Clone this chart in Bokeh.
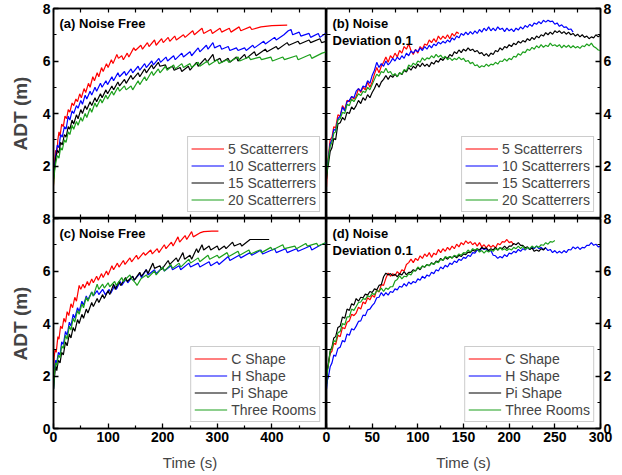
from bokeh.plotting import figure
from bokeh.layouts import column, row
from bokeh.models import Range1d, LinearAxis, FixedTicker, Legend, LegendItem, Label
from bokeh.embed import file_html
from bokeh.resources import INLINE

FONT = "Liberation Sans"
COLORS = ["#ff0000", "#0000ff", "#000000", "#1ca01c"]

SCAT_NAMES = ["5 Scatterrers", "10 Scatterrers", "15 Scatterrers", "20 Scatterrers"]
SHAPE_NAMES = ["C Shape", "H Shape", "Pi Shape", "Three Rooms"]

# ---------------- (a) Noise Free, scatterers ----------------
A_RED_T = [0, 2, 4, 6, 8, 10, 12, 15, 18, 21, 24, 27, 30, 34, 37, 41, 44, 48, 51, 56, 59, 64, 67, 72, 75, 80, 83, 88, 91, 97, 100, 106, 109, 116, 119, 125, 128, 135, 138, 147, 150, 160, 163, 172, 175, 185, 188, 198, 201, 210, 213, 222, 225, 238, 241, 255, 258, 272, 275, 288, 291, 305, 308, 322, 325, 340, 343, 360, 363, 380, 400, 428]
A_RED_V = [1.25, 2.2, 2.6, 2.45, 3.0, 3.3, 3.15, 3.6, 3.5, 3.9, 3.8, 4.15, 4.05, 4.4, 4.3, 4.55, 4.45, 4.75, 4.6, 4.95, 4.8, 5.15, 5.0, 5.4, 5.25, 5.55, 5.4, 5.75, 5.6, 5.9, 5.75, 6.05, 5.9, 6.25, 6.1, 6.2, 6.05, 6.3, 6.15, 6.5, 6.4, 6.6, 6.45, 6.7, 6.55, 6.8, 6.6, 6.85, 6.7, 6.9, 6.75, 6.95, 6.8, 7.0, 6.9, 7.15, 7.0, 7.25, 7.05, 7.2, 7.05, 7.25, 7.1, 7.25, 7.1, 7.3, 7.15, 7.3, 7.2, 7.3, 7.35, 7.37]

A_BLUE_T = [0, 2, 4, 7, 10, 13, 16, 20, 23, 27, 30, 34, 37, 42, 45, 50, 53, 58, 61, 67, 70, 76, 79, 86, 89, 96, 99, 107, 110, 118, 121, 130, 133, 142, 145, 155, 158, 167, 170, 180, 183, 193, 196, 206, 209, 220, 223, 235, 238, 250, 253, 265, 268, 280, 283, 292, 295, 305, 308, 320, 323, 335, 338, 350, 353, 365, 368, 385, 388, 405, 408, 422, 430, 435, 438, 450, 453, 468, 471, 485, 488, 498, 500]
A_BLUE_V = [1.6, 2.0, 2.4, 2.8, 2.7, 3.2, 3.1, 3.5, 3.4, 3.9, 3.75, 4.1, 4.0, 4.3, 4.2, 4.5, 4.35, 4.7, 4.55, 4.85, 4.7, 5.0, 4.85, 5.15, 5.0, 5.25, 5.1, 5.4, 5.25, 5.55, 5.4, 5.6, 5.45, 5.7, 5.55, 5.8, 5.65, 5.9, 5.75, 6.0, 5.85, 6.1, 5.95, 6.15, 6.0, 6.2, 6.05, 6.3, 6.15, 6.35, 6.2, 6.5, 6.35, 6.6, 6.45, 6.7, 6.5, 6.6, 6.45, 6.55, 6.4, 6.5, 6.4, 6.5, 6.4, 6.6, 6.5, 6.75, 6.65, 6.9, 6.8, 7.0, 7.15, 7.2, 7.0, 7.1, 6.95, 7.05, 6.9, 7.05, 6.9, 7.05, 6.95]

A_BLACK_T = [0, 2, 4, 7, 10, 13, 16, 20, 23, 27, 30, 34, 37, 42, 45, 50, 53, 58, 61, 67, 70, 76, 79, 86, 89, 96, 99, 107, 110, 118, 121, 130, 133, 142, 145, 155, 158, 167, 170, 180, 183, 192, 195, 205, 208, 218, 221, 232, 235, 247, 250, 262, 265, 278, 281, 292, 295, 305, 308, 320, 323, 335, 338, 350, 353, 368, 371, 388, 391, 408, 411, 428, 431, 448, 451, 468, 471, 488, 491, 500]
A_BLACK_V = [1.5, 1.9, 2.3, 2.6, 2.5, 2.9, 2.8, 3.2, 3.1, 3.5, 3.4, 3.75, 3.6, 3.95, 3.8, 4.15, 4.0, 4.3, 4.15, 4.45, 4.3, 4.6, 4.45, 4.75, 4.6, 4.9, 4.75, 5.05, 4.9, 5.2, 5.05, 5.3, 5.15, 5.45, 5.3, 5.55, 5.4, 5.7, 5.55, 5.85, 5.7, 5.95, 5.8, 5.85, 5.7, 5.8, 5.65, 5.75, 5.6, 5.8, 5.65, 5.95, 5.8, 6.1, 5.95, 6.25, 6.0, 6.1, 5.95, 6.1, 5.95, 6.15, 6.0, 6.25, 6.1, 6.35, 6.2, 6.45, 6.35, 6.55, 6.45, 6.7, 6.6, 6.75, 6.65, 6.8, 6.7, 6.85, 6.7, 6.75]

A_GREEN_T = [0, 2, 4, 7, 10, 13, 16, 20, 23, 27, 30, 34, 37, 42, 45, 50, 53, 58, 61, 67, 70, 76, 79, 86, 89, 96, 99, 107, 110, 118, 121, 130, 133, 142, 145, 155, 158, 167, 170, 180, 183, 192, 195, 205, 208, 220, 223, 235, 238, 250, 253, 265, 268, 282, 285, 300, 303, 318, 321, 338, 341, 358, 361, 378, 381, 398, 401, 420, 423, 445, 448, 470, 473, 492, 500]
A_GREEN_V = [1.3, 1.8, 2.1, 2.4, 2.3, 2.7, 2.6, 3.0, 2.9, 3.3, 3.2, 3.55, 3.4, 3.7, 3.55, 3.85, 3.7, 4.0, 3.85, 4.2, 4.05, 4.4, 4.25, 4.55, 4.4, 4.7, 4.55, 4.85, 4.7, 5.0, 4.85, 5.05, 4.9, 5.05, 4.9, 5.25, 5.1, 5.4, 5.25, 5.6, 5.45, 5.7, 5.55, 5.8, 5.65, 5.85, 5.7, 5.9, 5.75, 5.9, 5.75, 5.95, 5.8, 6.0, 5.85, 6.05, 5.9, 6.05, 5.95, 6.15, 6.0, 6.15, 6.05, 6.15, 6.05, 6.15, 6.0, 6.15, 6.05, 6.2, 6.05, 6.25, 6.1, 6.3, 6.35]

# ---------------- (c) Noise Free, shapes ----------------
C_RED_T = [0, 1, 3, 5, 8, 10, 13, 16, 19, 22, 25, 28, 32, 35, 39, 42, 47, 50, 54, 57, 62, 65, 70, 73, 79, 82, 88, 91, 97, 100, 107, 110, 117, 120, 128, 131, 140, 143, 152, 155, 165, 168, 178, 181, 190, 193, 203, 206, 216, 219, 228, 231, 241, 244, 253, 256, 268, 275, 290, 302]
C_RED_V = [1.8, 2.7, 3.0, 2.9, 3.5, 3.4, 3.9, 3.8, 4.2, 4.05, 4.45, 4.3, 4.75, 4.6, 5.0, 4.85, 5.45, 5.3, 5.5, 5.35, 5.6, 5.45, 5.7, 5.55, 5.8, 5.65, 5.9, 5.75, 6.0, 5.85, 6.2, 6.05, 6.3, 6.15, 6.4, 6.25, 6.5, 6.35, 6.6, 6.45, 6.7, 6.6, 6.8, 6.65, 6.85, 6.7, 7.0, 6.85, 7.1, 6.95, 7.3, 7.1, 7.35, 7.2, 7.5, 7.3, 7.45, 7.5, 7.52, 7.52]

C_BLUE_T = [0, 2, 4, 6, 9, 12, 15, 18, 22, 25, 29, 32, 36, 39, 44, 47, 52, 55, 60, 63, 70, 73, 80, 83, 90, 95, 102, 105, 112, 115, 122, 125, 133, 136, 145, 148, 158, 161, 170, 173, 185, 188, 200, 203, 215, 218, 230, 233, 248, 251, 265, 268, 285, 288, 300, 303, 320, 323, 340, 343, 360, 363, 380, 383, 405, 408, 425, 428, 445, 448, 470, 473, 490, 500]
C_BLUE_V = [1.5, 2.3, 2.6, 2.5, 2.9, 2.8, 3.3, 3.2, 3.7, 3.55, 4.05, 3.9, 4.35, 4.2, 4.6, 4.45, 4.85, 4.7, 5.05, 4.9, 5.2, 5.05, 5.25, 5.1, 5.3, 5.1, 5.3, 5.15, 5.45, 5.3, 5.6, 5.45, 5.7, 5.55, 5.8, 5.65, 5.9, 5.75, 6.05, 5.85, 6.05, 5.9, 6.15, 6.0, 6.2, 6.05, 6.2, 6.05, 6.3, 6.15, 6.3, 6.15, 6.35, 6.2, 6.35, 6.25, 6.55, 6.4, 6.6, 6.5, 6.7, 6.6, 6.8, 6.65, 6.85, 6.7, 6.85, 6.7, 6.85, 6.75, 6.95, 6.8, 7.0, 7.05]

C_BLACK_T = [0, 2, 4, 6, 9, 12, 15, 18, 22, 25, 29, 32, 36, 39, 44, 47, 52, 55, 60, 63, 70, 73, 80, 83, 90, 93, 100, 103, 110, 113, 120, 123, 132, 135, 145, 148, 158, 161, 170, 173, 182, 185, 195, 198, 210, 213, 225, 228, 237, 240, 250, 253, 262, 265, 272, 275, 285, 288, 300, 303, 313, 316, 328, 331, 342, 345, 360, 375, 395]
C_BLACK_V = [1.5, 2.0, 2.4, 2.2, 2.6, 2.5, 2.9, 2.8, 3.3, 3.15, 3.6, 3.45, 3.85, 3.7, 4.15, 4.0, 4.35, 4.2, 4.55, 4.4, 4.8, 4.65, 4.95, 4.8, 5.1, 4.95, 5.25, 5.1, 5.5, 5.3, 5.6, 5.45, 5.75, 5.6, 5.8, 5.65, 5.95, 5.8, 6.05, 5.9, 6.3, 6.1, 6.2, 6.05, 6.4, 6.25, 6.5, 6.35, 6.7, 6.45, 6.6, 6.45, 6.85, 6.7, 7.0, 6.8, 6.95, 6.8, 6.95, 6.8, 6.95, 6.85, 7.1, 6.95, 7.05, 6.95, 7.2, 7.2, 7.2]

C_GREEN_T = [0, 2, 4, 6, 9, 12, 15, 18, 22, 25, 29, 32, 36, 39, 44, 47, 52, 55, 60, 63, 70, 73, 80, 83, 90, 93, 100, 103, 112, 115, 125, 128, 140, 143, 150, 153, 160, 170, 173, 185, 188, 200, 203, 215, 218, 230, 233, 248, 251, 265, 268, 283, 286, 300, 303, 318, 321, 338, 341, 358, 361, 378, 381, 398, 401, 420, 423, 442, 445, 462, 465, 482, 485, 500]
C_GREEN_V = [1.5, 2.2, 2.5, 2.4, 2.8, 2.7, 3.15, 3.05, 3.55, 3.4, 3.9, 3.75, 4.2, 4.05, 4.5, 4.35, 4.75, 4.6, 5.0, 4.85, 5.2, 5.05, 5.5, 5.3, 5.5, 5.35, 5.55, 5.4, 5.6, 5.45, 5.75, 5.6, 5.85, 5.7, 5.55, 5.45, 5.7, 5.85, 5.75, 6.0, 5.85, 6.15, 6.0, 6.25, 6.1, 6.3, 6.15, 6.45, 6.3, 6.5, 6.35, 6.6, 6.45, 6.6, 6.5, 6.7, 6.55, 6.75, 6.6, 6.8, 6.65, 6.8, 6.7, 6.9, 6.8, 7.0, 6.85, 6.95, 6.85, 7.05, 6.95, 7.05, 6.95, 7.1]

# ---------------- noisy panels: shared sampling times (s) ----------------
T_NOISE = [0, 1, 2, 4, 6, 8, 10, 12.5, 15, 17.5, 20, 22.5, 25, 27.5, 30] + [32.5 + 2.5 * i for i in range(108)]

# (b) Noise deviation 0.1, scatterers
B_RED_V = [1.2, 2.0, 2.35, 3.0, 3.1, 3.5, 3.45, 3.95, 3.9, 4.3, 4.15, 4.5, 4.45, 4.65, 4.55,
           4.65, 4.95, 4.8, 5.0, 4.9, 5.2, 5.0, 5.2,
           5.5, 5.75, 5.55, 5.8, 5.95, 6.15, 5.95, 6.2,
           6.1, 6.3, 6.15, 6.4, 6.3, 6.55, 6.45, 6.65,
           6.4, 6.25, 6.45, 6.3, 6.55, 6.45, 6.65, 6.6,
           6.8, 6.7, 6.85, 6.72, 6.95, 6.82, 6.95, 6.85,
           7.0, 6.85, 7.05, 6.95, 7.1, 7.05]
B_BLUE_V = [1.7, 2.05, 2.25, 2.85, 3.0, 3.4, 3.35, 3.8, 3.9, 4.25, 4.1, 4.45, 4.5, 4.65, 4.6,
            4.85, 4.95, 4.85, 5.05, 5.0, 5.25, 5.15, 5.45,
            5.65, 5.95, 5.75, 5.9, 5.8, 6.0, 5.85, 5.95,
            6.1, 6.0, 6.15, 6.05, 6.2, 6.1, 6.3, 6.2,
            6.38, 6.3, 6.42, 6.35, 6.5, 6.4, 6.55, 6.45,
            6.6, 6.5, 6.65, 6.58, 6.72, 6.65, 6.75, 6.68,
            6.8, 6.72, 6.88, 6.8, 6.95, 6.88, 7.05, 6.98,
            7.1, 7.0, 7.12, 7.02, 7.15, 7.05, 7.2, 7.1,
            7.25, 7.15, 7.3, 7.15, 7.25, 7.15, 7.3, 7.2,
            7.25, 7.12, 7.25, 7.15, 7.22, 7.12, 7.25, 7.18,
            7.3, 7.22, 7.35, 7.28, 7.4, 7.32, 7.45, 7.4,
            7.5, 7.42, 7.55, 7.48, 7.55, 7.5, 7.52, 7.4,
            7.45, 7.32, 7.38, 7.28, 7.3, 7.2, 7.22, 7.1]
B_BLACK_V = [1.5, 1.85, 2.05, 2.55, 2.7, 3.05, 3.0, 3.6, 3.65, 3.85, 3.75, 4.05, 4.0, 4.25, 4.15,
             4.3, 4.5, 4.38, 4.6, 4.5, 4.72, 4.6, 4.8,
             4.95, 5.15, 5.0, 5.2, 5.3, 5.45, 5.3, 5.45,
             5.38, 5.5, 5.4, 5.55, 5.48, 5.65, 5.58, 5.75,
             5.65, 5.8, 5.72, 5.88, 5.78, 5.92, 5.8, 5.88,
             5.78, 5.95, 5.88, 6.02, 5.95, 6.1, 6.02, 6.15,
             6.1, 6.25, 6.18, 6.35, 6.28, 6.42, 6.32, 6.45,
             6.38, 6.5, 6.4, 6.45, 6.35, 6.4, 6.28, 6.32,
             6.2, 6.28, 6.18, 6.3, 6.25, 6.4, 6.35, 6.5,
             6.42, 6.55, 6.5, 6.62, 6.55, 6.68, 6.62, 6.75,
             6.68, 6.78, 6.72, 6.85, 6.78, 6.9, 6.82, 6.95,
             6.88, 7.0, 6.95, 7.08, 7.0, 7.1, 7.02, 7.15,
             7.08, 7.15, 7.05, 7.12, 7.02, 7.1, 7.0, 7.05,
             6.95, 7.02, 6.92, 7.0, 6.9, 6.95, 6.85, 6.92,
             6.88, 7.0, 6.92, 6.98]
B_GREEN_V = [1.6, 1.95, 2.25, 2.75, 2.9, 3.25, 3.3, 3.75, 3.8, 4.05, 4.0, 4.35, 4.3, 4.55, 4.45,
             4.6, 4.75, 4.68, 4.85, 4.8, 5.0, 4.9, 5.1,
             5.3, 5.5, 5.42, 5.6, 5.55, 5.72, 5.55, 5.6,
             5.45, 5.52, 5.4, 5.55, 5.5, 5.68, 5.62, 5.85,
             5.78, 5.92, 5.85, 6.0, 5.95, 6.12, 6.02, 6.12,
             6.08, 6.2, 6.12, 6.25, 6.15, 6.22, 6.1, 6.18,
             6.05, 6.12, 6.02, 6.1, 6.05, 6.15, 6.05, 6.1,
             5.98, 6.02, 5.9, 5.95, 5.82, 5.85, 5.75, 5.82,
             5.78, 5.88, 5.8, 5.88, 5.85, 5.95, 5.88, 6.0,
             5.98, 6.08, 6.0, 6.1, 6.05, 6.18, 6.15, 6.28,
             6.22, 6.35, 6.32, 6.45, 6.4, 6.52, 6.45, 6.58,
             6.5, 6.62, 6.52, 6.6, 6.55, 6.68, 6.58, 6.62,
             6.55, 6.62, 6.5, 6.6, 6.52, 6.6, 6.5, 6.58,
             6.5, 6.55, 6.48, 6.58, 6.55, 6.65, 6.58, 6.68,
             6.55, 6.5, 6.42, 6.4]

# (d) Noise deviation 0.1, shapes
D_RED_V = [1.8, 2.25, 2.45, 2.85, 2.95, 3.25, 3.2, 3.55, 3.5, 3.85, 3.8, 4.05, 4.1, 4.35, 4.3,
           4.4, 4.62, 4.55, 4.82, 4.75, 4.98, 4.9, 5.08,
           5.0, 5.28, 5.2, 5.48, 5.45, 5.72, 5.92, 5.8,
           5.9, 5.82, 5.98, 5.88, 6.05, 6.0, 6.25, 6.32,
           6.45, 6.32, 6.48, 6.4, 6.58, 6.48, 6.65, 6.55,
           6.7, 6.52, 6.68, 6.62, 6.82, 6.7, 6.85, 6.75,
           6.9, 6.8, 6.95, 6.85, 7.02, 6.92, 7.08, 7.0,
           7.15, 7.05, 7.12, 7.0, 7.08, 6.95, 7.08, 6.92,
           7.0, 6.88, 7.0, 6.9, 6.98, 6.88, 7.05, 7.0,
           7.12, 7.1, 7.2, 7.08, 7.12, 7.0]
D_BLUE_V = [1.5, 1.85, 1.95, 2.35, 2.5, 2.8, 2.75, 3.05, 3.1, 3.35, 3.3, 3.6, 3.55, 3.8, 3.75,
            3.9, 4.08, 4.1, 4.32, 4.3, 4.52, 4.55, 4.68,
            4.78, 4.98, 5.0, 5.18, 5.05, 5.18, 5.08, 5.22,
            5.18, 5.32, 5.28, 5.42, 5.38, 5.52, 5.42, 5.58,
            5.5, 5.6, 5.55, 5.7, 5.65, 5.8, 5.72, 5.85,
            5.8, 5.95, 5.9, 6.05, 6.0, 6.15, 6.08, 6.22,
            6.15, 6.3, 6.25, 6.38, 6.32, 6.45, 6.4, 6.52,
            6.48, 6.6, 6.55, 6.7, 6.68, 6.8, 6.75, 6.88,
            6.82, 6.85, 6.75, 6.78, 6.6, 6.58, 6.48, 6.55,
            6.5, 6.62, 6.55, 6.68, 6.65, 6.75, 6.7, 6.82,
            6.75, 6.85, 6.8, 6.9, 6.82, 6.9, 6.85, 6.95,
            6.85, 6.9, 6.82, 6.88, 6.78, 6.82, 6.7, 6.78,
            6.68, 6.75, 6.68, 6.78, 6.7, 6.82, 6.8, 6.92,
            6.85, 6.92, 6.82, 6.9, 6.88, 6.98, 6.98, 7.08,
            6.98, 7.02, 6.92, 6.95]
D_BLACK_V = [1.7, 2.25, 2.45, 2.95, 3.1, 3.45, 3.5, 3.85, 3.9, 4.25, 4.2, 4.55, 4.5, 4.75, 4.7,
             4.95, 4.85, 5.0, 4.98, 5.12, 5.08, 5.22, 5.18,
             5.32, 5.28, 5.45, 5.48, 5.78, 5.92, 5.85, 5.9,
             5.82, 5.88, 5.78, 5.9, 5.85, 5.98, 5.85, 5.95,
             5.95, 6.05, 6.0, 6.12, 6.05, 6.18, 6.15, 6.25,
             6.2, 6.32, 6.25, 6.38, 6.35, 6.48, 6.4, 6.52,
             6.45, 6.55, 6.5, 6.58, 6.5, 6.6, 6.55, 6.65,
             6.62, 6.72, 6.7, 6.8, 6.75, 6.85, 6.8, 6.9,
             6.85, 6.88, 6.78, 6.85, 6.8, 6.9, 6.8, 6.88,
             6.85, 6.95, 6.85, 6.95, 6.95, 7.05, 7.0, 7.08,
             6.98, 6.98, 6.88, 6.92, 6.82, 6.88, 6.75, 6.8,
             6.75, 6.85, 6.8, 6.9]
D_GREEN_V = [1.6, 2.15, 2.4, 2.95, 3.05, 3.35, 3.3, 3.65, 3.7, 4.0, 3.95, 4.25, 4.25, 4.55, 4.5,
             4.65, 4.8, 4.82, 4.95, 4.92, 5.05, 5.02, 5.15,
             5.1, 5.25, 5.22, 5.35, 5.22, 5.35, 5.3, 5.4,
             5.4, 5.62, 5.68, 5.82, 5.7, 5.8, 5.78, 5.9,
             5.85, 6.0, 6.0, 6.15, 6.08, 6.2, 6.15, 6.25,
             6.2, 6.3, 6.25, 6.35, 6.32, 6.45, 6.4, 6.55,
             6.5, 6.55, 6.48, 6.6, 6.55, 6.65, 6.6, 6.7,
             6.68, 6.8, 6.72, 6.85, 6.8, 6.85, 6.72, 6.78,
             6.68, 6.78, 6.72, 6.8, 6.75, 6.85, 6.8, 6.9,
             6.8, 6.85, 6.78, 6.85, 6.8, 6.9, 6.85, 6.95,
             6.85, 6.95, 6.82, 6.9, 6.85, 6.95, 6.88, 6.95,
             6.9, 7.0, 6.98, 7.08, 7.02, 7.12, 7.1, 7.16]

Y_MAJOR_FULL = [0, 2, 4, 6, 8]
Y_MAJOR_TOP = [2, 4, 6, 8]
Y_MINOR = [1, 3, 5, 7]
XL_MAJOR = [0, 100, 200, 300, 400, 500]
XL_LABELED = [0, 100, 200, 300, 400]
XL_MINOR = [50, 150, 250, 350, 450]
XR_MAJOR = [0, 50, 100, 150, 200, 250, 300]
XR_MINOR = [25, 75, 125, 175, 225, 275]


def make_axis(major, minor, labeled):
    if labeled:
        ax = LinearAxis(ticker=FixedTicker(ticks=major, minor_ticks=minor))
        ax.major_label_text_font = FONT
        ax.major_label_text_font_style = "bold"
        ax.major_label_text_font_size = "14px"
        ax.major_label_text_color = "black"
        ax.major_label_standoff = 3
        ax.minor_tick_in = 3
    else:
        # unlabeled side: every tick drawn as a (label-free) minor tick
        ax = LinearAxis(ticker=FixedTicker(ticks=[], minor_ticks=sorted(major + minor)))
        ax.minor_tick_in = 4
        ax.major_label_standoff = 0
    ax.axis_line_color = "black"
    ax.axis_line_width = 1.5
    ax.major_tick_in = 5
    ax.major_tick_out = 0
    ax.minor_tick_out = 0
    ax.major_tick_line_width = 1.3
    ax.minor_tick_line_width = 1.2
    ax.major_tick_line_color = "black"
    ax.minor_tick_line_color = "black"
    return ax


def panel(col, is_bottom, title_lines, series, names):
    left_col = col == 0
    xmax = 500 if left_col else 300
    p = figure(frame_width=273 if left_col else 274, frame_height=210,
               x_range=Range1d(0, xmax), y_range=Range1d(0, 8),
               output_backend="svg", toolbar_location=None,
               x_axis_location=None, y_axis_location=None,
               min_border_left=53 if left_col else 8,
               min_border_right=0 if left_col else 20,
               min_border_top=10 if is_bottom else 8,
               min_border_bottom=44 if is_bottom else 0,
               border_fill_color=None, background_fill_color="white",
               outline_line_color="black", outline_line_width=1.5)
    for g in p.grid:
        g.visible = False

    # y axes
    for loc in ("left", "right"):
        labeled = (loc == "left") == left_col
        if labeled:
            ax = make_axis(Y_MAJOR_FULL if is_bottom else Y_MAJOR_TOP, Y_MINOR, True)
            if left_col:
                ax.axis_label = "ADT (m)"
                ax.axis_label_text_font = FONT
                ax.axis_label_text_font_style = "bold"
                ax.axis_label_text_font_size = "19px"
                ax.axis_label_standoff = 9
        else:
            ax = make_axis(Y_MAJOR_FULL, Y_MINOR, False)
        p.add_layout(ax, loc)

    # x axes
    if left_col:
        maj, lab, mnr = XL_MAJOR, XL_LABELED, XL_MINOR
    else:
        maj, lab, mnr = XR_MAJOR, XR_MAJOR, XR_MINOR
    for loc in ("above", "below"):
        labeled = (loc == "below") and is_bottom
        if labeled:
            ax = make_axis(lab, mnr, True)
            ax.axis_label = "Time (s)"
            ax.axis_label_text_font = FONT
            ax.axis_label_text_font_style = "normal"
            ax.axis_label_text_font_size = "15px"
            ax.axis_label_standoff = 9
        else:
            ax = make_axis(maj, mnr, False)
        p.add_layout(ax, loc)

    items = []
    for (t, v), name, color in zip(series, names, COLORS):
        r = p.line(t, v, line_color=color, line_width=1.2)
        items.append(LegendItem(label=name, renderers=[r]))
    leg = Legend(items=items, location="bottom_right",
                 border_line_color="#9a9a9a", border_line_width=1.2,
                 background_fill_color="white", background_fill_alpha=1.0,
                 label_text_font=FONT, label_text_font_size="14px",
                 glyph_width=33, glyph_height=17, label_height=17, label_standoff=4,
                 spacing=0, padding=3, margin=6)
    p.add_layout(leg)

    for i, line in enumerate(title_lines):
        p.add_layout(Label(x=0, y=8, x_offset=6, y_offset=-7 - 17 * i, text=line,
                           text_baseline="top", text_font=FONT, text_font_style="bold",
                           text_font_size="13px", text_color="black"))
    return p


def noisy(vals):
    return (T_NOISE[:len(vals)], vals)


pa = panel(0, False, ["(a) Noise Free"],
           [(A_RED_T, A_RED_V), (A_BLUE_T, A_BLUE_V), (A_BLACK_T, A_BLACK_V), (A_GREEN_T, A_GREEN_V)],
           SCAT_NAMES)
pb = panel(1, False, ["(b) Noise", "Deviation 0.1"],
           [noisy(B_RED_V), noisy(B_BLUE_V), noisy(B_BLACK_V), noisy(B_GREEN_V)],
           SCAT_NAMES)
pc = panel(0, True, ["(c) Noise Free"],
           [(C_RED_T, C_RED_V), (C_BLUE_T, C_BLUE_V), (C_BLACK_T, C_BLACK_V), (C_GREEN_T, C_GREEN_V)],
           SHAPE_NAMES)
pd = panel(1, True, ["(d) Noise", "Deviation 0.1"],
           [noisy(D_RED_V), noisy(D_BLUE_V), noisy(D_BLACK_V), noisy(D_GREEN_V)],
           SHAPE_NAMES)

pb.margin = (0, 0, 0, -8)
pc.margin = (-10, 0, 0, 0)
pd.margin = (-10, 0, 0, -8)

layout = column(row(pa, pb), row(pc, pd))

open("out.html", "w").write(file_html(layout, INLINE))
